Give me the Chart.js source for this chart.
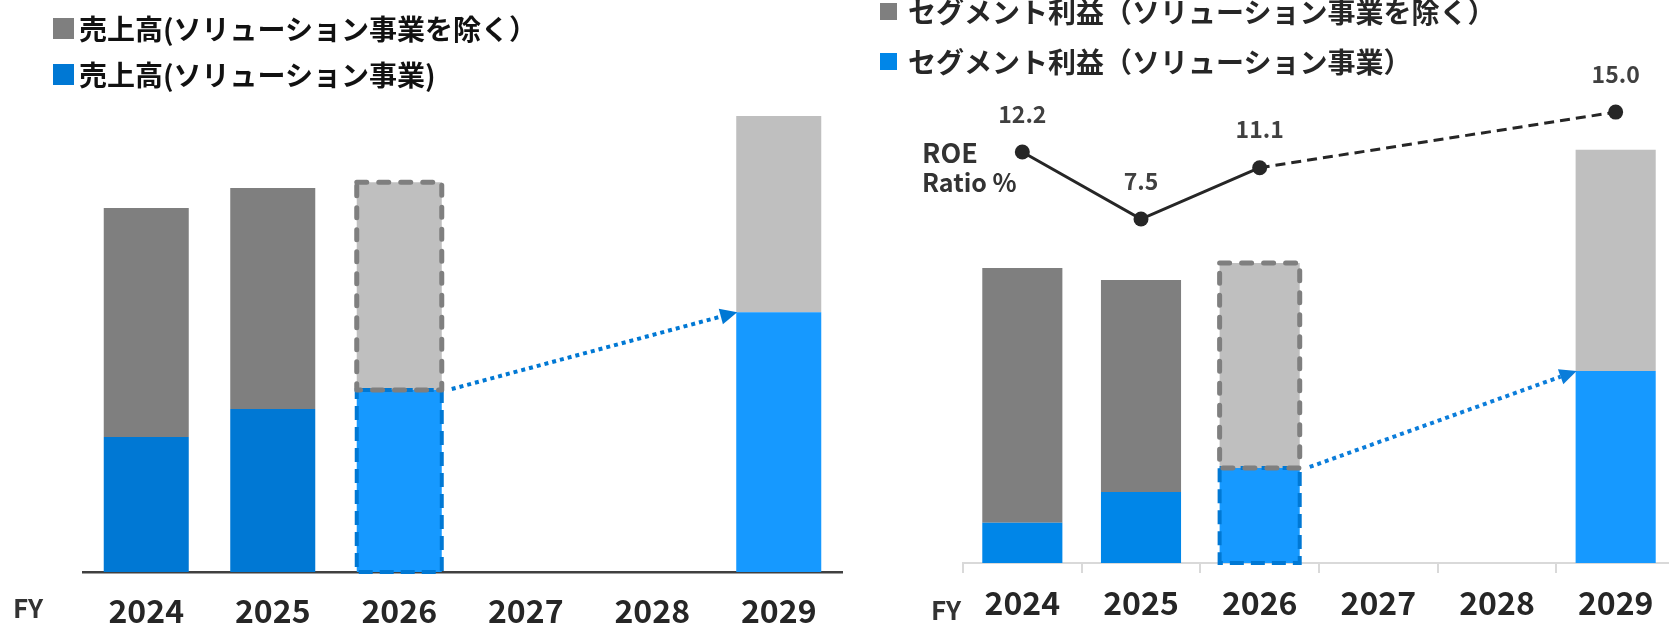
<!DOCTYPE html>
<html><head><meta charset="utf-8">
<script src="https://cdn.jsdelivr.net/npm/chart.js@4.4.1/dist/chart.umd.min.js"></script>
<style>
html,body{margin:0;padding:0;background:#fff;overflow:hidden;width:1669px;height:624px;}
body{position:relative;font-family:"Noto Sans CJK JP","Noto Sans",sans-serif;font-weight:700;}
canvas{position:absolute;top:0;}
#c1{left:0;}
#c2{left:860px;}
.lg{position:absolute;display:flex;align-items:center;white-space:nowrap;font-size:28px;line-height:30px;height:30px;}
.sw{display:inline-block;flex:none;}
.t{position:absolute;white-space:nowrap;line-height:1;color:#333;}
</style></head><body>
<canvas id="c1" width="860" height="624"></canvas>
<canvas id="c2" width="830" height="624"></canvas>

<div class="lg" style="left:53px;top:13px;color:#111"><span class="sw" style="width:21px;height:21px;background:#7F7F7F;margin-right:5px"></span>売上高(ソリューション事業を除く）</div>
<div class="lg" style="left:53px;top:59px;color:#111"><span class="sw" style="width:21px;height:21px;background:#0078D4;margin-right:5px"></span>売上高(ソリューション事業)</div>

<div class="lg" style="left:880px;top:-4px;color:#262626"><span class="sw" style="width:17px;height:17px;background:#7F7F7F;margin-right:11px"></span>セグメント利益（ソリューション事業を除く）</div>
<div class="lg" style="left:880px;top:46px;color:#262626"><span class="sw" style="width:17px;height:17px;background:#0086E8;margin-right:11px"></span>セグメント利益（ソリューション事業）</div>

<div class="t" style="left:922px;top:138px;font-size:27px;">ROE</div>
<div class="t" style="left:922px;top:169px;font-size:25px;">Ratio %</div>
<div class="t" style="left:13px;top:594px;font-size:26px;">FY</div>
<div class="t" style="left:931px;top:596px;font-size:26px;">FY</div>

<script>
// ---- data (bar values are relative, FY2024 total = 100) ----
const fiscalYears = ['2024', '2025', '2026', '2027', '2028', '2029'];
const salesSolution = [37.1, 44.8, 50.0, null, null, 71.4];
const salesOther = [62.9, 60.7, 57.1, null, null, 53.9];
const profitSolution = [13.6, 24.1, 32.2, null, null, 65.1];
const profitOther = [86.4, 71.8, 69.5, null, null, 74.9];
const roeRatio = [12.2, 7.5, 11.1, null, null, 15.0];
const planIndex = 2;      // FY2026 shown as dashed plan box
const targetIndex = 5;    // FY2029 target

const FONT = '"Noto Sans CJK JP","Noto Sans",sans-serif';

function colorsFor(darkCol, lightCol) {
  return fiscalYears.map((y, i) => i >= planIndex ? lightCol : darkCol);
}

function markupPlugin(arrowColor, blueDash) {
  return {
    id: 'markup',
    afterDatasetsDraw(chart) {
      const ctx = chart.ctx;
      const blue = chart.getDatasetMeta(0).data;
      const gray = chart.getDatasetMeta(1).data;
      const b = blue[planIndex].getProps(['x', 'y', 'base', 'width'], true);
      const g = gray[planIndex].getProps(['x', 'y', 'base', 'width'], true);
      ctx.save();
      // blue dashed box
      ctx.strokeStyle = blueDash;
      ctx.lineWidth = 4;
      ctx.lineCap = 'butt';
      ctx.setLineDash([14, 7]);
      ctx.strokeRect(b.x - b.width / 2, b.y, b.width, b.base - b.y);
      // gray dashed box
      ctx.strokeStyle = '#7F7F7F';
      ctx.lineWidth = 5;
      ctx.lineCap = 'round';
      ctx.lineJoin = 'round';
      ctx.setLineDash([10, 12]);
      ctx.strokeRect(g.x - g.width / 2, g.y, g.width, g.base - g.y);
      // dotted arrow
      const t = blue[targetIndex].getProps(['x', 'y', 'base', 'width'], true);
      const x0 = b.x + b.width / 2 + 10, y0 = b.y - 1;
      const x1 = t.x - t.width / 2 + 1, y1 = t.y;
      const ang = Math.atan2(y1 - y0, x1 - x0);
      const headLen = 17, headW = 8;
      const bx = x1 - headLen * Math.cos(ang), by = y1 - headLen * Math.sin(ang);
      ctx.strokeStyle = arrowColor;
      ctx.fillStyle = arrowColor;
      ctx.lineCap = 'butt';
      ctx.lineWidth = 4;
      ctx.setLineDash([4, 4]);
      ctx.beginPath();
      ctx.moveTo(x0, y0);
      ctx.lineTo(bx, by);
      ctx.stroke();
      ctx.setLineDash([]);
      ctx.beginPath();
      ctx.moveTo(x1, y1);
      ctx.lineTo(bx + headW * Math.sin(ang), by - headW * Math.cos(ang));
      ctx.lineTo(bx - headW * Math.sin(ang), by + headW * Math.cos(ang));
      ctx.closePath();
      ctx.fill();
      ctx.restore();
    }
  };
}

const roeLabelPlugin = {
  id: 'roeLabels',
  afterDatasetsDraw(chart) {
    const ctx = chart.ctx;
    const meta = chart.getDatasetMeta(2);
    ctx.save();
    ctx.font = 'bold 23px ' + FONT;
    ctx.fillStyle = '#404040';
    ctx.textAlign = 'center';
    ctx.textBaseline = 'middle';
    meta.data.forEach((pt, i) => {
      const v = roeRatio[i];
      if (v === null || v === undefined) return;
      ctx.fillText(v.toFixed(1), pt.x, pt.y - 38);
    });
    ctx.restore();
  }
};

Chart.defaults.font.family = FONT;

// ---- left chart: sales ----
new Chart(document.getElementById('c1'), {
  type: 'bar',
  data: {
    labels: fiscalYears,
    datasets: [
      { label: '売上高(ソリューション事業)', data: salesSolution, backgroundColor: colorsFor('#0078D4', '#1699FF'), stack: 's' },
      { label: '売上高(ソリューション事業を除く)', data: salesOther, backgroundColor: colorsFor('#7F7F7F', '#BFBFBF'), stack: 's' }
    ]
  },
  options: {
    responsive: false, animation: false, devicePixelRatio: 1,
    layout: { padding: { left: 83, right: 18, top: 100, bottom: 0 } },
    datasets: { bar: { categoryPercentage: 1, barPercentage: 0.672, borderWidth: 0 } },
    plugins: { legend: { display: false }, tooltip: { enabled: false } },
    scales: {
      x: {
        stacked: true,
        grid: { display: true, drawOnChartArea: false, drawTicks: false },
        border: { display: true, color: '#404040', width: 2.5 },
        ticks: { color: '#262626', font: { size: 32, weight: 'bold', family: FONT }, padding: 20, maxRotation: 0, autoSkip: false },
        afterFit(s) { s.height = 52; }
      },
      y: { stacked: true, display: false, min: 0, max: 129.7 }
    }
  },
  plugins: [markupPlugin('#0078D4', '#0078D4')]
});

// ---- right chart: segment profit + ROE ----
new Chart(document.getElementById('c2'), {
  type: 'bar',
  data: {
    labels: fiscalYears,
    datasets: [
      { label: 'セグメント利益（ソリューション事業）', data: profitSolution, backgroundColor: colorsFor('#0086E8', '#1699FF'), stack: 's', order: 1 },
      { label: 'セグメント利益（ソリューション事業を除く）', data: profitOther, backgroundColor: colorsFor('#7F7F7F', '#BFBFBF'), stack: 's', order: 1 },
      {
        type: 'line', label: 'ROE Ratio %', data: roeRatio, yAxisID: 'y2', order: 0,
        borderColor: '#262626', borderWidth: 3, pointRadius: 7.5, pointBackgroundColor: '#262626',
        pointBorderWidth: 0, spanGaps: true, fill: false, tension: 0,
        segment: { borderDash: c => c.p0DataIndex >= planIndex ? [10, 6] : undefined }
      }
    ]
  },
  options: {
    responsive: false, animation: false, devicePixelRatio: 1,
    layout: { padding: { left: 103, right: 15, top: 100, bottom: 0 } },
    datasets: { bar: { categoryPercentage: 1, barPercentage: 0.675, borderWidth: 0 } },
    plugins: { legend: { display: false }, tooltip: { enabled: false } },
    scales: {
      x: {
        stacked: true,
        grid: { display: true, drawOnChartArea: false, drawTicks: true, tickLength: 10, color: '#D9D9D9', lineWidth: 2, offset: true },
        border: { display: true, color: '#D9D9D9', width: 2 },
        ticks: { color: '#262626', font: { size: 32, weight: 'bold', family: FONT }, padding: 11, maxRotation: 0, autoSkip: false },
        afterFit(s) { s.height = 61; }
      },
      y: { stacked: true, display: false, min: 0, max: 156.9 },
      y2: { display: false, stacked: false, min: -16.62, max: 15.85 }
    }
  },
  plugins: [markupPlugin('#0B7DDA', '#0078D4'), roeLabelPlugin]
});
</script>
</body></html>
